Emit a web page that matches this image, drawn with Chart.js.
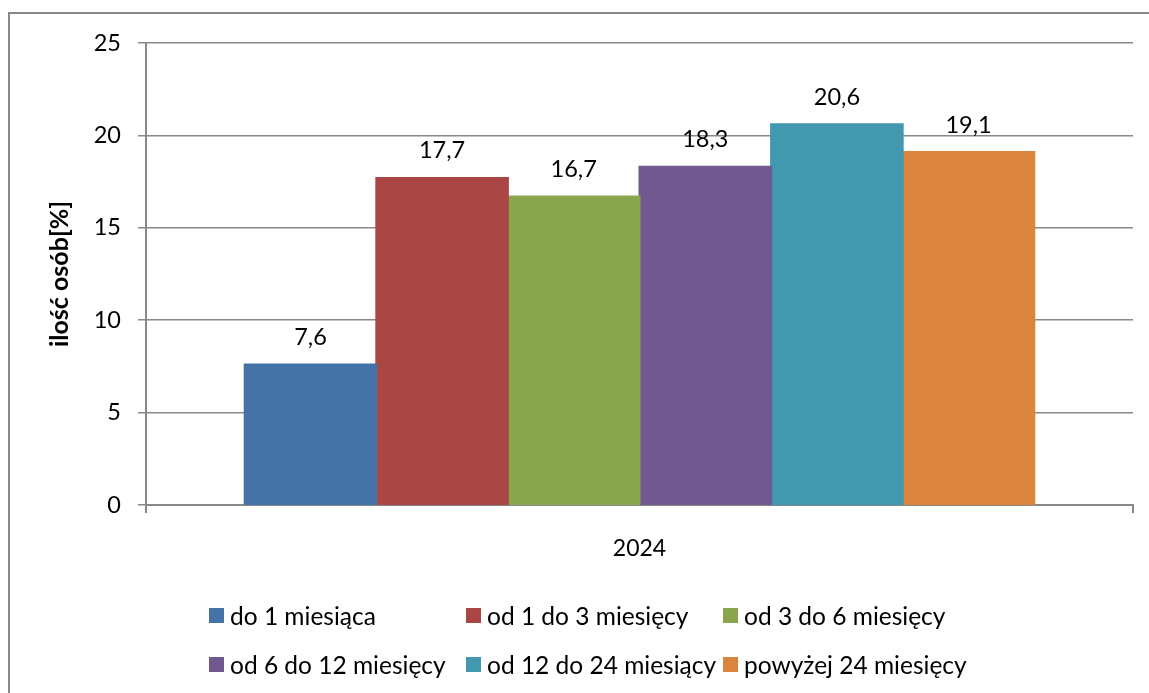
<!DOCTYPE html>
<html>
<head>
<meta charset="utf-8">
<script src="https://cdn.jsdelivr.net/npm/chart.js@4/dist/chart.umd.min.js"></script>
<style>
  html, body { margin: 0; padding: 0; background: #fff; overflow: hidden; }
  #wrap { position: relative; width: 1149px; height: 693px; overflow: hidden; }
  #frame { position: absolute; left: 8px; top: 12px; width: 1300px; height: 900px; border: 2px solid #888; box-sizing: border-box; }
  #chart { position: absolute; left: 0; top: 0; }
  #legend { position: absolute; left: 209px; top: 600px; display: grid;
            grid-template-columns: 257px 257px 300px; grid-auto-rows: 49px;
            font-family: Lato, sans-serif; font-size: 24.5px; color: #000; }
  .item { display: flex; align-items: center; height: 30px; white-space: nowrap; }
  .box { width: 15px; height: 15px; margin-right: 6px; flex: none; }
</style>
</head>
<body>
<div id="wrap">
  <div id="frame"></div>
  <canvas id="chart" width="1149" height="693"></canvas>
  <div id="legend"></div>
</div>
<script>
// dane
const years = ['2024'];
const seriesNames = ['do 1 miesiąca', 'od 1 do 3 miesięcy', 'od 3 do 6 miesięcy',
                     'od 6 do 12 miesięcy', 'od 12 do 24 miesiący', 'powyżej 24 miesięcy'];
const seriesValues = [7.6, 17.7, 16.7, 18.3, 20.6, 19.1];
const seriesColors = ['#4572A7', '#AA4643', '#89A54E', '#71588F', '#4198AF', '#DB843D'];
const yTicks = [0, 5, 10, 15, 20, 25];

const FONT = 'Lato, sans-serif';
const fmt = v => v.toFixed(1).replace('.', ',');

// etykiety nad słupkami
const valueLabels = {
  id: 'valueLabels',
  afterDatasetsDraw(chart) {
    const ctx = chart.ctx;
    ctx.save();
    ctx.font = '23.5px ' + FONT;
    ctx.fillStyle = '#000';
    ctx.textAlign = 'center';
    ctx.textBaseline = 'middle';
    chart.data.datasets.forEach((ds, i) => {
      chart.getDatasetMeta(i).data.forEach((bar, j) => {
        ctx.fillText(fmt(ds.data[j]), bar.x, bar.y - 27);
      });
    });
    ctx.restore();
  }
};

new Chart(document.getElementById('chart'), {
  type: 'bar',
  data: {
    labels: years,
    datasets: seriesNames.map((name, i) => ({
      label: name,
      data: [seriesValues[i]],
      backgroundColor: seriesColors[i],
      borderWidth: 0,
      inflateAmount: 1,
      categoryPercentage: 0.8,
      barPercentage: 1.0
    }))
  },
  options: {
    responsive: false,
    animation: false,
    devicePixelRatio: 1,
    layout: { padding: { top: 43, right: 16, left: 0, bottom: 0 } },
    plugins: {
      legend: { display: false },
      tooltip: { enabled: false }
    },
    scales: {
      x: {
        grid: { offset: true, drawOnChartArea: false, color: '#888', lineWidth: 2, tickLength: 8 },
        border: { color: '#888', width: 2 },
        ticks: { font: { family: FONT, size: 23 }, color: '#000', padding: 22 },
        afterFit(scale) { scale.height = 188; }
      },
      y: {
        min: 0, max: 25,
        afterBuildTicks(scale) { scale.ticks = yTicks.map(v => ({ value: v })); },
        grid: { color: '#888', lineWidth: 1.5, tickLength: 8 },
        border: { color: '#888', width: 2 },
        ticks: { font: { family: FONT, size: 23.5 }, color: '#000', padding: 17 },
        title: {
          display: true,
          text: 'ilość osób[%]',
          font: { family: FONT, size: 25, weight: 'bold' },
          color: '#000',
          padding: { top: 45, bottom: 0 }
        },
        afterFit(scale) { scale.width = 146; }
      }
    }
  },
  plugins: [valueLabels]
});

// legenda
const legend = document.getElementById('legend');
seriesNames.forEach((name, i) => {
  const el = document.createElement('div');
  el.className = 'item';
  el.innerHTML = '<span class="box" style="background:' + seriesColors[i] + '"></span><span>' + name + '</span>';
  legend.appendChild(el);
});
</script>
</body>
</html>
